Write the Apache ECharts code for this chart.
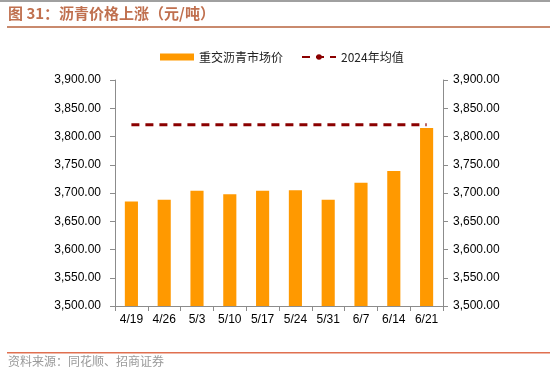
<!DOCTYPE html>
<html><head><meta charset="utf-8">
<script src="https://cdn.jsdelivr.net/npm/echarts@6/dist/echarts.min.js"></script>
<style>html,body{margin:0;padding:0;background:#fff}#c{width:550px;height:388px}</style>
</head><body><div id="c"></div>
<script>
const categories = ['4/19','4/26','5/3','5/10','5/17','5/24','5/31','6/7','6/14','6/21'];
const priceValues = [3685, 3688, 3704, 3698, 3704, 3705, 3688, 3718, 3739, 3815];
const avg2024 = 3821;
const avgValues = categories.map(() => avg2024);
const yMin = 3500, yMax = 3900, yStep = 50;

const chart = echarts.init(document.getElementById('c'), null, {renderer:'canvas'});
const fmt = v => v.toLocaleString('en-US',{minimumFractionDigits:2,maximumFractionDigits:2});
const axisGray = '#8c8c8c';
const labelFont = {color:'#000', fontSize:12, fontFamily:'Liberation Sans, Arial, sans-serif'};
chart.setOption({
  animation:false,
  backgroundColor:'#fff',
  graphic:[
    {type:'rect', shape:{x:0,y:0,width:550,height:2}, style:{fill:'#a0a0a0'}},
    {type:'text', left:8, top:6, style:{text:'图 31：沥青价格上涨（元/吨）', fill:'#c0704f', font:'bold 15px "Noto Sans CJK SC", sans-serif'}},
    {type:'rect', shape:{x:7,y:26,width:543,height:2}, style:{fill:'#c98a6e'}},
    {type:'rect', shape:{x:7,y:352,width:543,height:1.5}, style:{fill:'#e07050'}},
    {type:'text', left:8, top:355, style:{text:'资料来源：同花顺、招商证券', fill:'#9a9a9a', font:'12px "Noto Sans CJK SC", sans-serif'}}
  ],
  legend:{
    top:46, left:155, itemGap:18, itemWidth:34, itemHeight:7,
    textStyle:{color:'#222', fontSize:12, fontFamily:'"Noto Sans CJK SC", Liberation Sans, sans-serif'},
    data:[{name:'重交沥青市场价', icon:'rect'}, {name:'2024年均值'}]
  },
  grid:{left:115, right:107, top:80, bottom:82, containLabel:false},
  xAxis:{
    type:'category', data:categories, boundaryGap:true,
    axisLine:{lineStyle:{color:axisGray, width:1}},
    axisTick:{show:true, alignWithLabel:false, inside:false, length:5, lineStyle:{color:axisGray}},
    axisLabel:Object.assign({margin:8, interval:0}, labelFont)
  },
  yAxis:[
    {type:'value', min:yMin, max:yMax, interval:yStep, position:'left',
     axisLine:{show:true, lineStyle:{color:axisGray}},
     axisTick:{show:true, length:5, lineStyle:{color:axisGray}},
     splitLine:{show:false},
     axisLabel:Object.assign({margin:14, formatter:fmt}, labelFont)},
    {type:'value', min:yMin, max:yMax, interval:yStep, position:'right',
     axisLine:{show:true, lineStyle:{color:axisGray}},
     axisTick:{show:true, length:5, lineStyle:{color:axisGray}},
     splitLine:{show:false},
     axisLabel:Object.assign({margin:10, formatter:fmt}, labelFont)}
  ],
  series:[
    {name:'重交沥青市场价', type:'bar', data:priceValues, barWidth:'40%',
     itemStyle:{color:'#ff9900'}},
    {name:'2024年均值', type:'line', data:avgValues, symbol:'none', z:5,
     lineStyle:{color:'#8b0000', width:3, type:[8,6]}, itemStyle:{color:'#8b0000'}}
  ]
});
</script></body></html>
